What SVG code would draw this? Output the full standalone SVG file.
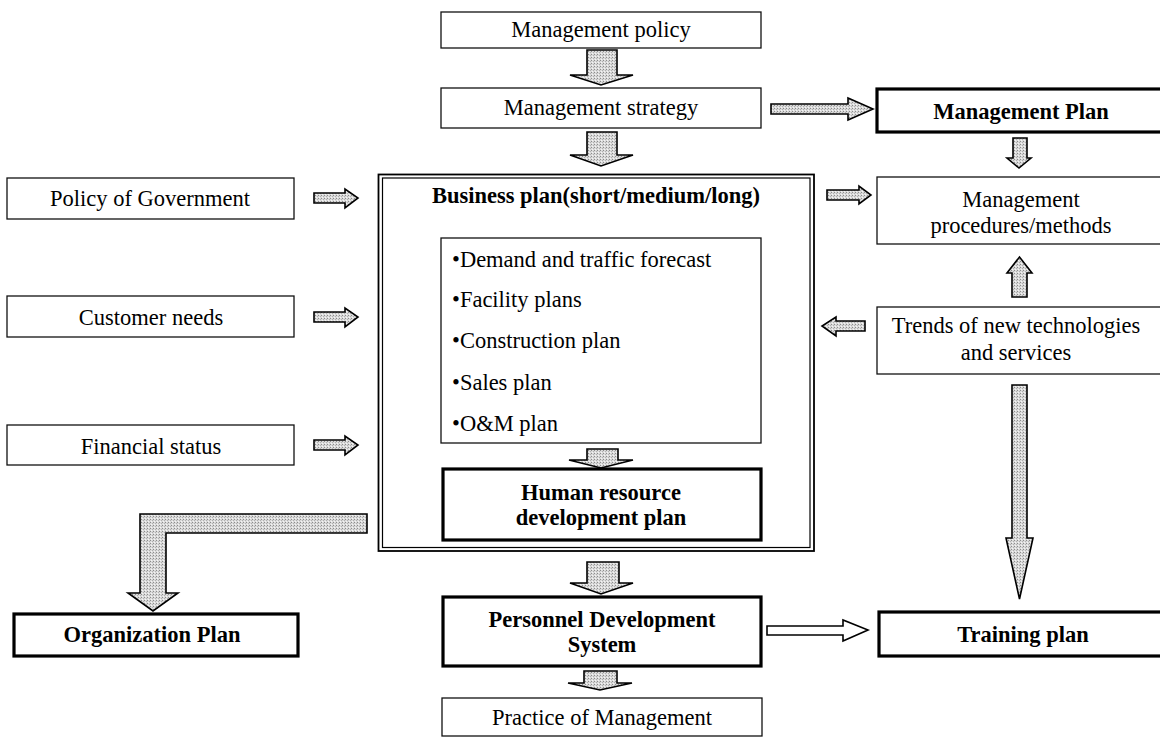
<svg xmlns="http://www.w3.org/2000/svg" width="1160" height="737" viewBox="0 0 1160 737">
  <defs>
    <!-- stippled grey fill used by the block arrows -->
    <pattern id="stipple" width="3" height="3" patternUnits="userSpaceOnUse">
      <rect width="3" height="3" fill="#dadada"/>
      <rect x="0" y="0" width="1" height="1" fill="#8c8c8c"/>
      <rect x="2" y="1" width="1" height="1" fill="#b0b0b0"/>
      <rect x="1" y="2" width="1" height="1" fill="#f4f4f4"/>
    </pattern>
    <style>
      .box { fill: #fff; stroke: #111; stroke-width: 1.3; }
      .bold-box { fill: #fff; stroke: #000; stroke-width: 3.2; }
      .outer { fill: none; stroke: #000; stroke-width: 1.8; }
      .inner { fill: none; stroke: #000; stroke-width: 1.2; }
      .arrow { fill: url(#stipple); stroke: #000; stroke-width: 1.6; stroke-linejoin: miter; }
      .arrow-open { fill: #fff; stroke: #000; stroke-width: 1.6; }
      text { font-family: "Liberation Serif", "Times New Roman", serif; font-size: 22.5px; fill: #000; }
      .c { text-anchor: middle; }
      .b { font-weight: bold; }
    </style>
  </defs>

  <rect width="1160" height="737" fill="#fff"/>

  <!-- block arrows -->
  <g id="connectors">
    <!-- policy -> strategy -->
    <polygon class="arrow" points="587,50 617,50 617,75 633,75 601,85 570,75 587,75"/>
    <!-- strategy -> business plan -->
    <polygon class="arrow" points="587,132 617,132 617,155 633,155 601,166 570,155 587,155"/>
    <!-- strategy -> management plan -->
    <polygon class="arrow" points="771,104 848,104 848,98 873,109 848,120 848,114 771,114"/>
    <!-- management plan -> procedures -->
    <polygon class="arrow" points="1013,138 1027,138 1027,158 1031,158 1019,168 1007,158 1013,158"/>
    <!-- external inputs -> business plan -->
    <polygon class="arrow" points="314,193 345,193 345,189 358,198 345,208 345,203 314,203"/>
    <polygon class="arrow" points="314,312 345,312 345,308 358,317 345,327 345,322 314,322"/>
    <polygon class="arrow" points="314,440 345,440 345,436 358,445 345,455 345,450 314,450"/>
    <!-- business plan -> procedures -->
    <polygon class="arrow" points="827,190 859,190 859,186 871,195 859,204 859,200 827,200"/>
    <!-- trends -> procedures -->
    <polygon class="arrow" points="1012,297 1012,273 1007,273 1019.5,257 1032,273 1027,273 1027,297"/>
    <!-- trends -> business plan -->
    <polygon class="arrow" points="865,321 836,321 836,317 822,326 836,336 836,331 865,331"/>
    <!-- trends -> training plan -->
    <polygon class="arrow" points="1012,385 1027,385 1027,538 1033,538 1019.5,599 1006,538 1012,538"/>
    <!-- forecast list -> human resource plan -->
    <polygon class="arrow" points="587,449 618,449 618,460 633,460 601,468 569,460 587,460"/>
    <!-- business plan -> organization plan -->
    <polygon class="arrow" points="367,514 140,514 140,593 128,593 153,611 178,593 166,593 166,533 367,533"/>
    <!-- business plan -> personnel system -->
    <polygon class="arrow" points="587,562 619,562 619,583 633,583 601,594 570,583 587,583"/>
    <!-- personnel system -> practice -->
    <polygon class="arrow" points="584,671 617,671 617,683 632,683 600,690 568,683 584,683"/>
    <!-- personnel system -> training plan -->
    <polygon class="arrow-open" points="767,626 843,626 843,620 868,630 843,641 843,635 767,635"/>
  </g>

  <g id="management-policy">
    <rect class="box" x="441" y="12" width="320" height="36"/>
    <text class="c" x="601" y="37">Management policy</text>
  </g>

  <g id="management-strategy">
    <rect class="box" x="441" y="88" width="320" height="40"/>
    <text class="c" x="601" y="115">Management strategy</text>
  </g>

  <g id="management-plan">
    <rect class="bold-box" x="877" y="89" width="290" height="43"/>
    <text class="c b" x="1021" y="119">Management Plan</text>
  </g>

  <g id="management-procedures">
    <rect class="box" x="877" y="177" width="290" height="67"/>
    <text class="c" x="1021" y="207">Management</text>
    <text class="c" x="1021" y="233">procedures/methods</text>
  </g>

  <g id="trends">
    <rect class="box" x="877" y="307" width="290" height="67"/>
    <text class="c" x="1016" y="333">Trends of new technologies</text>
    <text class="c" x="1016" y="360">and services</text>
  </g>

  <g id="policy-of-government">
    <rect class="box" x="7" y="178" width="287" height="41"/>
    <text class="c" x="150" y="206">Policy of Government</text>
  </g>

  <g id="customer-needs">
    <rect class="box" x="7" y="296" width="287" height="41"/>
    <text class="c" x="151" y="325">Customer needs</text>
  </g>

  <g id="financial-status">
    <rect class="box" x="7" y="425" width="287" height="40"/>
    <text class="c" x="151" y="454">Financial status</text>
  </g>

  <g id="business-plan">
    <rect class="outer" x="378.5" y="174.5" width="435.5" height="376.5"/>
    <rect class="inner" x="382.5" y="178" width="427.5" height="369.5"/>
    <text class="c b" x="596" y="203">Business plan(short/medium/long)</text>
  </g>

  <g id="plan-items">
    <rect class="box" x="441" y="238" width="320" height="205"/>
    <text x="452" y="267">•Demand and traffic forecast</text>
    <text x="452" y="307">•Facility plans</text>
    <text x="452" y="348">•Construction plan</text>
    <text x="452" y="390">•Sales plan</text>
    <text x="452" y="431">•O&amp;M plan</text>
  </g>

  <g id="human-resource-plan">
    <rect class="bold-box" x="443" y="469" width="318" height="71"/>
    <text class="c b" x="601" y="500">Human resource</text>
    <text class="c b" x="601" y="525">development plan</text>
  </g>

  <g id="organization-plan">
    <rect class="bold-box" x="14" y="614" width="284" height="42"/>
    <text class="c b" x="152" y="642">Organization Plan</text>
  </g>

  <g id="personnel-development-system">
    <rect class="bold-box" x="443" y="597" width="318" height="69"/>
    <text class="c b" x="602" y="627">Personnel Development</text>
    <text class="c b" x="602" y="652">System</text>
  </g>

  <g id="training-plan">
    <rect class="bold-box" x="879" y="612" width="290" height="44"/>
    <text class="c b" x="1023" y="642">Training plan</text>
  </g>

  <g id="practice-of-management">
    <rect class="box" x="442" y="698" width="320" height="38"/>
    <text class="c" x="602" y="725">Practice of Management</text>
  </g>
</svg>
